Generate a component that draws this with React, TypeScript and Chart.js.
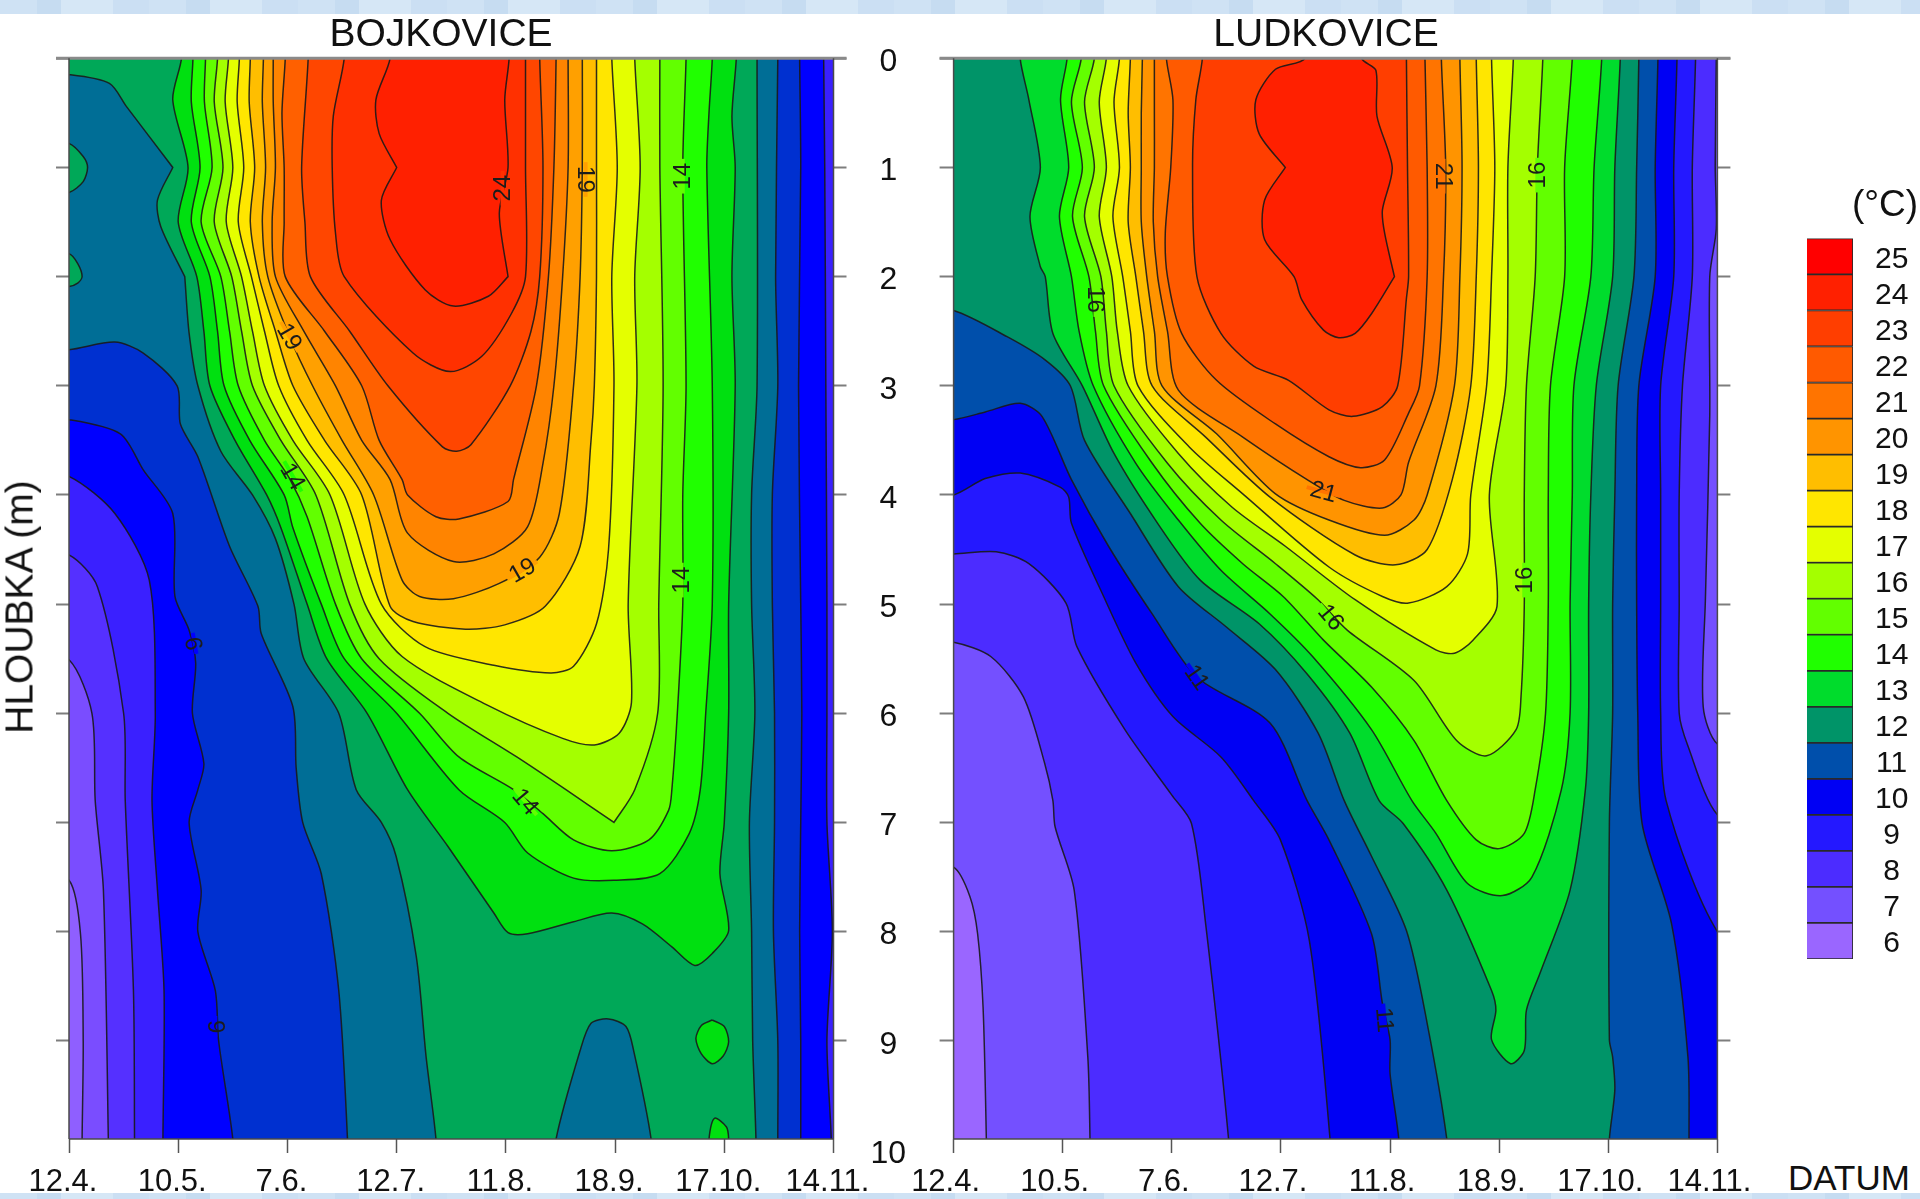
import React, { useEffect, useRef } from "react";
import { Chart, registerables } from "chart.js";

Chart.register(...registerables);
Chart.defaults.font.family = "'Liberation Sans', Arial, sans-serif";

type Pt = [number, number]; // [position on the date axis, depth in m]

const dates = ["12.4.", "10.5.", "7.6.", "12.7.", "11.8.", "18.9.", "17.10.", "14.11."];
const legendLevels = [25, 24, 23, 22, 21, 20, 19, 18, 17, 16, 15, 14, 13, 12, 11, 10, 9, 8, 7, 6];

/* ---------- BOJKOVICE isotherms ---------- */
const boj5: Pt[] = [[0, 7.53], [0.105, 8.02], [0.13, 9], [0.12, 9.9]];
const boj6: Pt[] = [[0, 5.51], [0.21, 6], [0.24, 6.8], [0.315, 7.62], [0.36, 9.9]];
const boj7: Pt[] = [[0, 4.55], [0.26, 4.84], [0.5, 6], [0.515, 6.8], [0.59, 8.54], [0.6, 9.9]];
const boj8L: Pt[] = [[0, 3.83], [0.42, 4.17], [0.735, 4.78], [0.79, 6], [0.76, 6.8], [0.81, 7.62], [0.87, 8.54], [0.86, 9.9]];
const boj8R: Pt[] = [[6.98, 9.9], [6.94, 9], [6.99, 8], [6.94, 7], [6.94, 6], [6.94, 5], [6.93, 3], [6.92, 1], [6.91, 0]];
const boj9L: Pt[] = [[0, 3.31], [0.47, 3.44], [0.68, 3.77], [0.95, 4.17], [0.97, 4.93], [1.1, 5.24], [1.16, 5.54], [1.13, 6], [1.235, 6.46], [1.18, 6.7], [1.1, 7], [1.21, 7.62], [1.18, 8], [1.34, 8.54], [1.37, 9], [1.5, 9.9]];
const boj9R: Pt[] = [[6.7, 9.9], [6.7, 9], [6.69, 8], [6.7, 7], [6.71, 6], [6.7, 5], [6.68, 3], [6.7, 1], [6.69, 0]];
const boj10L: Pt[] = [[0, 2.67], [0.42, 2.6], [0.68, 2.7], [0.99, 3], [1.02, 3.35], [1.18, 3.65], [1.47, 4.47], [1.73, 5.02], [1.76, 5.27], [2.05, 5.94], [2.08, 6.5], [2.14, 7], [2.31, 7.47], [2.47, 8.54], [2.55, 9.9]];
const boj10R: Pt[] = [[6.49, 9.9], [6.49, 9], [6.45, 8], [6.46, 7], [6.46, 6], [6.44, 5], [6.44, 4], [6.49, 3], [6.47, 2], [6.49, 0]];
const boj11L: Pt[] = [[0, 0.15], [0.37, 0.23], [0.525, 0.44], [0.95, 1], [0.95, 1], [0.81, 1.3], [0.84, 1.54], [1.06, 2], [1.06, 2], [1.1, 2.52], [1.18, 3], [1.39, 3.6], [1.68, 4], [1.89, 4.4], [2.06, 5], [2.15, 5.5], [2.47, 6], [2.63, 6.7], [2.86, 7], [2.995, 7.31], [3.18, 8.23], [3.27, 9.15], [3.36, 9.9]];
const boj11R: Pt[] = [[6.29, 9.9], [6.26, 9], [6.25, 8], [6.23, 7], [6.28, 6], [6.25, 5], [6.25, 4], [6.3, 3], [6.3, 0]];
const bojCold: Pt[] = [[4.46, 10.2], [4.46, 9.9], [4.68, 9.09], [4.78, 8.84], [4.94, 8.8], [5.1, 8.87], [5.17, 9.09], [5.33, 9.9], [5.33, 10.2]];
const bojWarm1: Pt[] = [[-0.2, 0.78], [0, 0.78], [0.13, 0.9], [0.17, 1], [0.13, 1.13], [0, 1.23], [-0.2, 1.23]];
const bojWarm2: Pt[] = [[-0.2, 1.79], [0, 1.79], [0.08, 1.88], [0.12, 2], [0.08, 2.06], [0, 2.09], [-0.2, 2.09]];
const boj12: Pt[] = [[1.03, 0], [0.95, 0.38], [1.09, 1], [1, 1.5], [1.17, 2], [1.235, 2.5], [1.29, 3], [1.52, 3.5], [1.81, 4], [1.94, 4.3], [2.18, 5], [2.36, 5.5], [2.73, 6], [3.1, 6.7], [3.47, 7.22], [3.89, 7.83], [4.02, 8.01], [4.2, 8.02], [4.62, 7.91], [4.97, 7.83], [5.25, 7.93], [5.52, 8.14], [5.73, 8.31], [5.89, 8.2], [6.04, 7.99], [5.96, 7.47], [6, 7], [6.04, 6], [6.04, 5], [6.1, 3], [6.07, 2], [6.1, 1], [6.07, 0.53], [6.11, 0]];
const bojWarm3: Pt[] = [[5.89, 8.81], [6, 8.87], [6.04, 9.01], [5.99, 9.14], [5.89, 9.21], [5.79, 9.12], [5.74, 8.98], [5.79, 8.86]];
const bojWarm4: Pt[] = [[5.86, 10.2], [5.86, 9.9], [5.91, 9.71], [6.02, 9.79], [6.04, 9.9], [6.04, 10.2]];
const boj13: Pt[] = [[1.135, 0], [1.12, 0.4], [1.2, 1], [1.12, 1.5], [1.29, 2], [1.36, 2.5], [1.42, 3], [1.655, 3.5], [1.97, 4], [2.05, 4.3], [2.31, 5], [2.52, 5.5], [3, 6], [3.57, 6.7], [3.99, 7], [4.2, 7.28], [4.62, 7.51], [4.99, 7.53], [5.41, 7.47], [5.68, 7.1], [5.78, 6.7], [5.83, 6], [5.89, 5], [5.89, 3], [5.84, 1], [5.86, 0.5], [5.89, 0]];
const boj14: Pt[] = [[1.25, 0], [1.24, 0.4], [1.31, 1], [1.21, 1.5], [1.39, 2], [1.47, 2.5], [1.55, 3], [1.79, 3.5], [2.02, 3.85], [2.18, 4.2], [2.44, 5], [2.68, 5.5], [3.21, 6], [3.57, 6.4], [4.07, 6.7], [4.34, 6.92], [4.62, 7.16], [4.97, 7.26], [5.31, 7.16], [5.49, 6.89], [5.52, 6.7], [5.57, 6], [5.62, 5], [5.62, 4], [5.65, 3], [5.62, 1], [5.65, 0]];
const boj15: Pt[] = [[1.36, 0], [1.33, 0.4], [1.41, 1], [1.33, 1.5], [1.49, 2], [1.58, 2.5], [1.68, 3], [1.94, 3.5], [2.26, 4], [2.57, 5], [2.84, 5.5], [3.47, 6], [4.1, 6.4], [4.55, 6.7], [4.99, 7], [4.99, 7], [5.18, 6.7], [5.39, 6], [5.4, 5], [5.44, 3], [5.41, 1], [5.41, 0]];
const boj16: Pt[] = [[1.46, 0], [1.43, 0.4], [1.5, 1], [1.44, 1.5], [1.58, 2], [1.68, 2.5], [1.79, 3], [2.05, 3.5], [2.39, 4], [2.71, 5], [3.05, 5.48], [3.84, 5.93], [4.52, 6.23], [4.81, 6.29], [5.04, 6.18], [5.15, 5.9], [5.12, 5], [5.2, 3], [5.18, 2], [5.23, 1], [5.18, 0]];
const boj17: Pt[] = [[1.56, 0], [1.54, 0.4], [1.6, 1], [1.55, 1.5], [1.67, 2], [1.79, 2.5], [1.92, 3], [2.18, 3.5], [2.52, 4], [2.86, 5], [3.26, 5.39], [3.89, 5.56], [4.41, 5.63], [4.62, 5.57], [4.83, 5.18], [4.94, 4.5], [4.99, 3], [4.97, 2], [5.02, 1], [4.97, 0]];
const boj18: Pt[] = [[1.66, 0], [1.65, 0.4], [1.7, 1], [1.66, 1.5], [1.74, 2], [1.89, 2.5], [2.05, 3], [2.34, 3.5], [2.68, 4], [2.94, 5.02], [3.15, 5.16], [3.63, 5.23], [3.99, 5.19], [4.36, 5.02], [4.68, 4.47], [4.78, 3.5], [4.81, 3], [4.83, 2], [4.83, 1], [4.83, 0]];
const boj19: Pt[] = [[1.78, 0], [1.77, 0.4], [1.8, 1], [1.77, 1.5], [1.82, 2], [2.02, 2.55], [2.23, 3], [2.5, 3.5], [2.79, 4], [3.05, 4.78], [3.21, 4.93], [3.52, 4.95], [3.94, 4.81], [4.31, 4.57], [4.49, 4.17], [4.62, 3], [4.68, 2], [4.7, 1], [4.7, 0]];
const boj20: Pt[] = [[1.87, 0], [1.87, 0.4], [1.89, 1], [1.86, 1.5], [1.89, 2], [2.15, 2.5], [2.44, 3], [2.68, 3.5], [2.94, 3.86], [3.1, 4.35], [3.52, 4.61], [3.89, 4.54], [4.2, 4.29], [4.34, 3.71], [4.44, 3], [4.52, 2], [4.57, 1], [4.57, 0]];
const boj21: Pt[] = [[1.98, 0], [1.95, 0.5], [1.97, 1], [1.97, 1.5], [1.98, 2], [2.34, 2.5], [2.68, 3], [2.84, 3.5], [3.05, 3.86], [3.1, 4], [3.36, 4.2], [3.57, 4.22], [4.02, 4.06], [4.07, 3.86], [4.28, 3], [4.39, 2], [4.44, 1], [4.46, 0]];
const boj22: Pt[] = [[2.19, 0], [2.13, 1], [2.16, 1.5], [2.21, 2], [2.57, 2.5], [2.92, 3], [3.42, 3.56], [3.55, 3.6], [3.68, 3.54], [4.04, 3], [4.23, 2.5], [4.31, 2], [4.34, 1], [4.31, 0]];
const boj23: Pt[] = [[2.52, 0], [2.42, 0.53], [2.41, 1], [2.44, 1.6], [2.52, 2], [3.15, 2.7], [3.49, 2.87], [3.78, 2.73], [4.05, 2.34], [4.18, 2], [4.18, 1], [4.18, 0]];
const boj24: Pt[] = [[2.94, 0], [2.81, 0.38], [2.84, 0.69], [3, 1], [3, 1], [2.86, 1.3], [2.94, 1.66], [3.26, 2.12], [3.52, 2.27], [3.84, 2.18], [4.02, 2], [4.02, 2], [3.94, 1.42], [4.02, 1], [3.99, 0.38], [4.03, 0]];

/* ---------- LUDKOVICE isotherms ---------- */
const lud7: Pt[] = [[0, 7.41], [0.15, 7.68], [0.22, 8.02], [0.27, 8.69], [0.3, 9.9]];
const lud8L: Pt[] = [[0, 5.35], [0.34, 5.48], [0.64, 5.85], [0.835, 6.46], [0.91, 6.8], [0.93, 7.04], [1.105, 7.62], [1.23, 9.15], [1.25, 9.9]];
const lud8R: Pt[] = [[7, 6.28], [6.87, 5.94], [6.89, 4.96], [6.93, 3.27], [6.93, 2], [6.99, 1.56], [6.98, 0.99], [6.99, 0]];
const lud9L: Pt[] = [[0, 4.54], [0.39, 4.52], [0.69, 4.63], [1.03, 4.99], [1.13, 5.39], [1.57, 6.15], [2, 6.75], [2.18, 7.01], [2.31, 7.93], [2.52, 9.9]];
const lud9R: Pt[] = [[7, 6.93], [6.73, 6.3], [6.65, 6], [6.65, 5], [6.65, 4], [6.68, 3], [6.77, 2], [6.77, 1], [6.8, 0]];
const lud10L: Pt[] = [[0, 4], [0.29, 3.85], [0.61, 3.8], [0.98, 3.93], [1.055, 4.02], [1.08, 4.26], [1.375, 4.93], [1.67, 5.54], [2.01, 6.03], [2.45, 6.4], [2.75, 6.8], [2.995, 7.16], [3.26, 8.08], [3.45, 9.9]];
const lud10R: Pt[] = [[7, 8], [6.53, 6.8], [6.48, 6], [6.48, 5], [6.48, 4], [6.48, 3], [6.6, 2], [6.6, 1], [6.63, 0]];
const lud11L: Pt[] = [[0, 3.31], [0.29, 3.24], [0.61, 3.16], [0.81, 3.28], [1.08, 3.86], [1.42, 4.47], [1.82, 5.09], [2.23, 5.67], [2.9, 6.09], [3.24, 6.8], [3.44, 7.16], [3.83, 8.02], [3.93, 8.66], [4, 8.99], [4, 9.3], [4.08, 9.9]];
const lud11R: Pt[] = [[6.74, 9.9], [6.73, 9.15], [6.58, 7.93], [6.31, 7.01], [6.27, 6], [6.26, 5], [6.26, 4], [6.28, 3], [6.43, 2], [6.43, 1], [6.455, 0]];
const lud12L: Pt[] = [[0, 2.31], [0.49, 2.55], [0.835, 2.76], [1.07, 3], [1.2, 3.5], [1.62, 4.17], [2.06, 4.84], [2.5, 5.21], [2.95, 5.6], [3.34, 6.18], [3.58, 6.8], [3.83, 7.31], [4.15, 7.99], [4.34, 8.84], [4.52, 9.9]];
const lud12R: Pt[] = [[6.01, 9.9], [6.06, 9.45], [6.04, 9.15], [6.01, 8.99], [6.01, 7.01], [6.04, 6], [6.04, 5], [6.06, 4], [6.09, 3], [6.235, 2], [6.26, 1], [6.28, 0]];
const lud13: Pt[] = [[0.61, 0], [0.69, 0.38], [0.795, 1], [0.7, 1.45], [0.795, 1.91], [0.84, 2], [0.91, 2.52], [1.18, 3], [1.47, 3.62], [1.87, 4.26], [2.26, 4.78], [2.8, 5.18], [3.24, 5.64], [3.63, 6.18], [3.9, 6.8], [4.12, 7.01], [4.52, 7.62], [4.93, 8.54], [4.97, 8.72], [4.93, 8.99], [5.105, 9.21], [5.23, 9.09], [5.25, 8.72], [5.375, 8.38], [5.65, 7.62], [5.79, 6.7], [5.82, 6], [5.82, 5], [5.84, 4], [5.89, 3], [6.04, 2], [6.06, 1], [6.11, 0]];
const lud14: Pt[] = [[1.04, 0], [0.98, 0.38], [1.055, 1], [0.97, 1.45], [1.08, 2], [1.15, 2.5], [1.28, 3], [1.67, 3.71], [2.06, 4.23], [2.45, 4.69], [2.9, 5.09], [3.29, 5.48], [3.83, 6.15], [4.2, 6.8], [4.42, 7.1], [4.71, 7.56], [5.03, 7.67], [5.3, 7.5], [5.57, 6.7], [5.65, 6], [5.65, 5], [5.67, 4], [5.685, 3], [5.84, 2], [5.87, 1], [5.94, 0]];
const lud15: Pt[] = [[1.17, 0], [1.08, 0.4], [1.18, 1], [1.09, 1.45], [1.24, 2], [1.3, 2.5], [1.375, 3], [1.82, 3.71], [2.26, 4.26], [2.65, 4.63], [3.02, 4.93], [3.39, 5.33], [3.83, 5.76], [4.22, 6.25], [4.52, 6.8], [4.79, 7.16], [5, 7.24], [5.23, 7.1], [5.33, 6.7], [5.425, 6], [5.45, 5], [5.45, 4], [5.47, 3], [5.6, 2], [5.6, 1], [5.67, 0]];
const lud16: Pt[] = [[1.29, 0], [1.2, 0.4], [1.29, 1], [1.2, 1.45], [1.35, 2], [1.4, 2.5], [1.47, 3], [1.96, 3.71], [2.45, 4.23], [2.95, 4.63], [3.34, 4.96], [3.61, 5.24], [4.22, 5.7], [4.61, 6.25], [4.885, 6.39], [5.155, 6.15], [5.2, 5.85], [5.23, 5.02], [5.23, 4], [5.25, 3], [5.33, 2], [5.35, 1], [5.4, 0]];
const lud17: Pt[] = [[1.4, 0], [1.335, 0.4], [1.4, 1], [1.335, 1.45], [1.45, 2], [1.5, 2.5], [1.6, 3], [2.06, 3.62], [2.55, 4.11], [3.04, 4.47], [3.68, 4.96], [4.42, 5.42], [4.59, 5.45], [4.76, 5.33], [4.98, 5.02], [4.91, 4], [5.06, 3], [5.08, 2], [5.08, 1], [5.13, 0]];
const lud18: Pt[] = [[1.52, 0], [1.47, 0.4], [1.52, 1], [1.46, 1.45], [1.55, 2], [1.62, 2.5], [1.69, 3], [2.16, 3.56], [2.65, 3.99], [3.44, 4.66], [3.93, 4.93], [4.17, 4.99], [4.52, 4.84], [4.71, 4.54], [4.74, 4], [4.885, 3], [4.93, 2], [4.96, 1], [4.93, 0]];
const lud19: Pt[] = [[1.62, 0], [1.6, 0.5], [1.62, 1], [1.6, 1.5], [1.67, 2], [1.74, 2.5], [1.82, 3], [2.31, 3.47], [2.9, 4.02], [3.68, 4.55], [4.05, 4.64], [4.34, 4.5], [4.57, 3.86], [4.74, 3], [4.79, 2], [4.81, 1], [4.79, 0]];
const lud20: Pt[] = [[1.73, 0], [1.72, 0.5], [1.72, 1], [1.72, 1.5], [1.77, 2], [1.84, 2.5], [1.91, 3], [2.41, 3.44], [2.95, 3.99], [3.44, 4.23], [3.95, 4.37], [4.22, 4.23], [4.34, 4], [4.59, 3], [4.64, 2], [4.66, 1], [4.64, 0]];
const lud21: Pt[] = [[1.84, 0], [1.84, 0.5], [1.84, 1], [1.83, 1.5], [1.87, 2], [1.96, 2.5], [2.06, 3.04], [2.65, 3.47], [3.24, 3.86], [3.58, 4.05], [3.93, 4.12], [4.1, 4], [4.17, 3.7], [4.42, 3], [4.49, 2], [4.51, 1], [4.47, 0]];
const lud22: Pt[] = [[1.95, 0], [2.01, 0.38], [1.99, 1], [1.94, 1.6], [1.96, 2], [2.09, 2.52], [2.41, 2.95], [2.95, 3.35], [3.44, 3.65], [3.73, 3.75], [3.95, 3.68], [4.17, 3.25], [4.27, 3], [4.34, 2], [4.34, 1], [4.32, 0]];
const lud23: Pt[] = [[2.28, 0], [2.22, 0.38], [2.19, 1], [2.23, 2], [2.45, 2.52], [2.75, 2.82], [3.07, 2.95], [3.44, 3.22], [3.66, 3.28], [3.93, 3.19], [4.07, 3], [4.15, 2.2], [4.17, 2], [4.16, 1], [4.15, 0]];
const lud24: Pt[] = [[3.22, 0], [2.95, 0.1], [2.77, 0.38], [2.8, 0.69], [3.04, 1], [3.04, 1], [2.85, 1.3], [2.85, 1.66], [3.12, 2], [3.19, 2.21], [3.39, 2.49], [3.53, 2.56], [3.68, 2.52], [3.83, 2.34], [4.04, 2], [4.04, 2], [3.95, 1.6], [3.93, 1.39], [4.02, 1], [3.88, 0.53], [3.87, 0.11], [3.74, 0]];

/* ---------- contour labels: text, date position, depth ---------- */
const bojLabelText = ["24", "19", "14", "19", "14", "19", "14", "9", "14", "9"];
const bojLabelDate = [3.97, 4.73, 5.62, 2.02, 2.05, 4.15, 5.61, 1.15, 4.18, 1.34];
const bojLabelDepth = [1.19, 1.11, 1.08, 2.55, 3.83, 4.69, 4.78, 5.36, 6.81, 8.87];
const ludLabelText = ["21", "16", "16", "21", "16", "16", "11", "11"];
const ludLabelDate = [4.49, 5.35, 1.3, 3.39, 5.23, 3.46, 2.23, 3.95];
const ludLabelDepth = [1.08, 1.07, 2.21, 3.97, 4.78, 5.12, 5.67, 8.81];

/* ---------- styling ---------- */
const bojAngles = [-90, 90, -90, 60, 60, -30, -90, -100, 50, 90];
const bojPatches = ["#ff3000", "#ffa000", "#62ff00", "#ffa000", "#20ff00", "#ffa000", "#62ff00", "#0000ff", "#62ff00", "#0000ff"];
const ludAngles = [90, -90, 90, 15, -90, 50, 55, 85];
const ludPatches = ["#ff7400", "#62ff00", "#62ff00", "#ff7400", "#62ff00", "#62ff00", "#0000f4", "#0000f4"];
const legendColors = ["#ff0000", "#ff2000", "#ff3e00", "#ff5a00", "#ff7400", "#ff9400", "#ffbe00", "#ffe600", "#e4ff00", "#a4ff00", "#62ff00", "#20ff00", "#00dc2c", "#009468", "#004fab", "#0000f4", "#2418ff", "#4c2cff", "#7450ff", "#9a66ff"];
const LINE = "rgba(25,25,25,0.9)";

type Layer = { color: string; left: Pt[]; right?: Pt[]; closed?: boolean };

function polygon(layer: Layer): { x: number; y: number }[] {
  const { left, right, closed } = layer;
  const out: Pt[] = [];
  if (closed) {
    out.push(...left, left[0]);
  } else {
    const first = left[0];
    const last = left[left.length - 1];
    out.push(first[0] === 0 ? [-0.3, first[1]] : [first[0], -0.4]);
    out.push(...left);
    if (last[1] === 0) {
      out.push([last[0], -0.4]);
    } else {
      out.push([last[0], 10.2]);
      if (right) {
        const rf = right[0];
        if (rf[1] >= 9.9) out.push([rf[0], 10.2]);
        else out.push([7.3, 10.2], [7.3, rf[1]]);
        out.push(...right, [right[right.length - 1][0], -0.4]);
      } else {
        out.push([7.3, 10.2], [7.3, -0.4]);
      }
      out.push([-0.3, -0.4]);
    }
    out.push(out[0]);
  }
  return out.map(([x, y]) => ({ x, y }));
}

const bojLayers: Layer[] = [
  { color: "#7a4dff", left: boj5 },
  { color: "#5530ff", left: boj6 },
  { color: "#3a20ff", left: boj7 },
  { color: "#0000ff", left: boj8L, right: boj8R },
  { color: "#0030d0", left: boj9L, right: boj9R },
  { color: "#006e96", left: boj10L, right: boj10R },
  { color: "#00a858", left: boj11L, right: boj11R },
  { color: "#006e96", left: bojCold, closed: true },
  { color: "#00a858", left: bojWarm1, closed: true },
  { color: "#00a858", left: bojWarm2, closed: true },
  { color: "#00e010", left: boj12 },
  { color: "#00e010", left: bojWarm3, closed: true },
  { color: "#00e010", left: bojWarm4, closed: true },
  { color: "#20ff00", left: boj13 },
  { color: "#62ff00", left: boj14 },
  { color: "#a4ff00", left: boj15 },
  { color: "#e4ff00", left: boj16 },
  { color: "#ffe600", left: boj17 },
  { color: "#ffbe00", left: boj18 },
  { color: "#ffa000", left: boj19 },
  { color: "#ff8400", left: boj20 },
  { color: "#ff6000", left: boj21 },
  { color: "#ff4600", left: boj22 },
  { color: "#ff3000", left: boj23 },
  { color: "#ff2000", left: boj24 },
];
const ludLayers: Layer[] = [
  { color: "#7450ff", left: lud7 },
  { color: "#4c2cff", left: lud8L, right: lud8R },
  { color: "#2418ff", left: lud9L, right: lud9R },
  { color: "#0000f4", left: lud10L, right: lud10R },
  { color: "#004fab", left: lud11L, right: lud11R },
  { color: "#009468", left: lud12L, right: lud12R },
  { color: "#00dc2c", left: lud13 },
  { color: "#20ff00", left: lud14 },
  { color: "#62ff00", left: lud15 },
  { color: "#a4ff00", left: lud16 },
  { color: "#e4ff00", left: lud17 },
  { color: "#ffe600", left: lud18 },
  { color: "#ffbe00", left: lud19 },
  { color: "#ff9400", left: lud20 },
  { color: "#ff7400", left: lud21 },
  { color: "#ff5a00", left: lud22 },
  { color: "#ff3e00", left: lud23 },
  { color: "#ff2000", left: lud24 },
];

type PanelCfg = {
  layers: Layer[];
  base: string;
  labels: { text: string; date: number; depth: number; angle: number; patch: string }[];
  showDepthLabels: boolean;
  padLeft: number;
  padRight: number;
  rightWidth: number;
  leftWidth: number;
  labelOffset: number;
};

function makeLabels(t: string[], d: number[], y: number[], a: number[], p: string[]) {
  return t.map((text, i) => ({ text, date: d[i], depth: y[i], angle: a[i], patch: p[i] }));
}

function panelConfig(cfg: PanelCfg): any {
  const frame = {
    id: "frame",
    beforeDatasetsDraw(chart: any) {
      const { ctx, chartArea: a } = chart;
      ctx.save();
      ctx.fillStyle = cfg.base;
      ctx.fillRect(a.left, a.top, a.width, a.height);
      ctx.restore();
    },
    afterDatasetsDraw(chart: any) {
      const { ctx, chartArea: a, scales } = chart;
      ctx.save();
      ctx.font = "24px 'Liberation Sans', Arial, sans-serif";
      ctx.textAlign = "center";
      ctx.textBaseline = "middle";
      for (const l of cfg.labels) {
        const px = scales.x.getPixelForValue(l.date);
        const py = scales.y.getPixelForValue(l.depth);
        ctx.save();
        ctx.translate(px, py);
        ctx.rotate((l.angle * Math.PI) / 180);
        const w = ctx.measureText(l.text).width + 8;
        ctx.fillStyle = l.patch;
        ctx.fillRect(-w / 2, -2, w, 4);
        ctx.fillStyle = "#1c1c1c";
        ctx.fillText(l.text, 0, 1);
        ctx.restore();
      }
      ctx.strokeStyle = "#8a8a8a";
      ctx.lineWidth = 3;
      ctx.beginPath();
      ctx.moveTo(a.left - cfg.leftWidth, a.top);
      ctx.lineTo(a.right + 13, a.top);
      ctx.stroke();
      ctx.strokeStyle = "#4a4a4a";
      ctx.lineWidth = 1.5;
      ctx.beginPath();
      ctx.moveTo(a.left, a.bottom);
      ctx.lineTo(a.right, a.bottom);
      ctx.moveTo(a.left, a.top);
      ctx.lineTo(a.left, a.bottom);
      ctx.moveTo(a.right, a.top);
      ctx.lineTo(a.right, a.bottom);
      ctx.stroke();
      ctx.restore();
    },
  };
  const tickGrid = {
    drawOnChartArea: false,
    drawTicks: true,
    tickWidth: 2,
    tickColor: (c: any) => (c.tick && c.tick.value > 9 ? "rgba(0,0,0,0)" : "#7d7d7d"),
  };
  return {
    type: "scatter",
    data: {
      // Chart.js paints the first dataset last, so the warmest layer comes first.
      datasets: cfg.layers.slice().reverse().map((l) => ({
        data: polygon(l),
        showLine: true,
        fill: "shape",
        backgroundColor: l.color,
        borderColor: LINE,
        borderWidth: 1.5,
        pointRadius: 0,
        tension: 0.28,
        capBezierPoints: false,
        xAxisID: "x",
        yAxisID: "y",
      })),
    },
    options: {
      responsive: false,
      animation: false,
      events: [],
      layout: { padding: { left: cfg.padLeft, right: cfg.padRight, top: 58.3, bottom: 0 } },
      plugins: { legend: { display: false }, tooltip: { enabled: false } },
      scales: {
        x: {
          type: "linear",
          min: 0,
          max: 7,
          position: "bottom",
          afterFit: (s: any) => { s.height = 60; },
          border: { display: false },
          grid: { drawOnChartArea: false, tickLength: 14, tickWidth: 1.5, tickColor: "#555" },
          ticks: {
            stepSize: 1,
            autoSkip: false,
            maxRotation: 0,
            padding: 11,
            labelOffset: cfg.labelOffset,
            color: "#111",
            font: { size: 31 },
            callback: (v: any) => dates[v],
          },
        },
        y: {
          type: "linear",
          reverse: true,
          min: 0,
          max: 9.9,
          position: "right",
          afterBuildTicks: (s: any) => { if (cfg.showDepthLabels) s.ticks.push({ value: 10 }); },
          afterFit: (s: any) => { s.width = cfg.rightWidth; },
          border: { display: false },
          grid: { ...tickGrid, tickLength: 13 },
          ticks: {
            display: cfg.showDepthLabels,
            stepSize: 1,
            includeBounds: false,
            autoSkip: false,
            crossAlign: "center",
            padding: 24,
            labelOffset: 4,
            color: "#111",
            font: { size: 32 },
            callback: (v: any) => String(v),
          },
        },
        yLeft: {
          type: "linear",
          reverse: true,
          min: 0,
          max: 9.9,
          position: "left",
          afterFit: (s: any) => { s.width = cfg.leftWidth; },
          border: { display: false },
          grid: { ...tickGrid, tickLength: cfg.leftWidth },
          ticks: { display: false, stepSize: 1, includeBounds: false, autoSkip: false },
        },
      },
    },
    plugins: [frame],
  };
}

function Panel(props: { cfg: PanelCfg; left: number; width: number }) {
  const ref = useRef<HTMLCanvasElement>(null);
  useEffect(() => {
    const chart = new Chart(ref.current as HTMLCanvasElement, panelConfig(props.cfg));
    return () => chart.destroy();
  }, []);
  return (
    <canvas
      ref={ref}
      width={props.width}
      height={1199}
      style={{ position: "absolute", left: props.left, top: 0, width: props.width, height: 1199 }}
    />
  );
}

function ColorKey() {
  const ref = useRef<HTMLCanvasElement>(null);
  useEffect(() => {
    const chart = new Chart(ref.current as HTMLCanvasElement, {
      type: "bar",
      data: {
        labels: legendLevels.map(String),
        datasets: [
          {
            data: legendLevels.map(() => 1),
            backgroundColor: legendColors,
            borderColor: "#2a2a2a",
            borderWidth: 1.2,
            barPercentage: 1,
            categoryPercentage: 1,
          },
        ],
      },
      options: {
        indexAxis: "y",
        responsive: false,
        animation: false,
        events: [],
        layout: { padding: { left: 27, right: 0, top: 48.4, bottom: 41 } },
        plugins: { legend: { display: false }, tooltip: { enabled: false } },
        scales: {
          x: { display: false, min: 0, max: 1 },
          y: {
            position: "right",
            afterFit: (s: any) => { s.width = 67; },
            border: { display: false },
            grid: { display: false, drawTicks: false },
            ticks: {
              autoSkip: false,
              crossAlign: "center",
              padding: 22,
              labelOffset: 3,
              color: "#111",
              font: { size: 30 },
            },
          },
        },
      },
    } as any);
    return () => chart.destroy();
  }, []);
  return (
    <canvas
      ref={ref}
      width={140}
      height={810}
      style={{ position: "absolute", left: 1780, top: 190, width: 140, height: 810 }}
    />
  );
}

const FONT = "'Liberation Sans', Arial, sans-serif";
const text = (s: React.CSSProperties): React.CSSProperties => ({
  position: "absolute",
  fontFamily: FONT,
  color: "#111",
  whiteSpace: "nowrap",
  lineHeight: 1,
  transform: "translate(-50%,-50%)",
  ...s,
});
const strip =
  "repeating-linear-gradient(90deg, #cfe2f4 0 37px, #c6dcf1 37px 61px, #d6e7f6 61px 113px, #cbdff3 113px 149px)";

export default function App() {
  const boj: PanelCfg = {
    layers: bojLayers,
    base: "#8f5fff",
    labels: makeLabels(bojLabelText, bojLabelDate, bojLabelDepth, bojAngles, bojPatches),
    showDepthLabels: true,
    padLeft: 56,
    padRight: 21.5,
    rightWidth: 75,
    leftWidth: 13,
    labelOffset: -6,
  };
  const lud: PanelCfg = {
    layers: ludLayers,
    base: "#9a66ff",
    labels: makeLabels(ludLabelText, ludLabelDate, ludLabelDepth, ludAngles, ludPatches),
    showDepthLabels: false,
    padLeft: 34.6,
    padRight: 53.6,
    rightWidth: 14,
    leftWidth: 14,
    labelOffset: -8,
  };
  return (
    <div style={{ position: "absolute", left: 0, top: 0, width: 1920, height: 1199, background: "#fff", overflow: "hidden" }}>
      <div style={{ position: "absolute", left: 0, top: 0, width: 1920, height: 14, background: strip }} />
      <div style={{ position: "absolute", left: 0, top: 1193, width: 1920, height: 6, background: strip }} />
      <Panel cfg={boj} left={0} width={930} />
      <Panel cfg={lud} left={905} width={880} />
      <ColorKey />
      <div style={text({ left: 441, top: 32, fontSize: 39 })}>BOJKOVICE</div>
      <div style={text({ left: 1326, top: 32, fontSize: 39 })}>LUDKOVICE</div>
      <div style={text({ left: 19, top: 607, fontSize: 39, transform: "translate(-50%,-50%) rotate(-90deg)" })}>HLOUBKA (m)</div>
      <div style={text({ left: 1849, top: 1177, fontSize: 35 })}>DATUM</div>
      <div style={text({ left: 1885, top: 203, fontSize: 37 })}>(°C)</div>
    </div>
  );
}
